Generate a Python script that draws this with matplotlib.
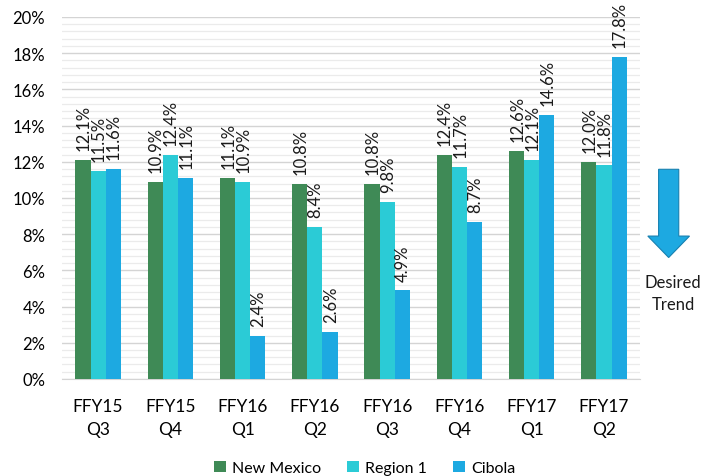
import matplotlib.pyplot as plt
import numpy as np
from matplotlib.patches import FancyArrow

# -----------------------------------
# Data
# -----------------------------------

quarters = ["FFY15\nQ3", "FFY15\nQ4", "FFY16\nQ1", "FFY16\nQ2",
            "FFY16\nQ3", "FFY16\nQ4", "FFY17\nQ1", "FFY17\nQ2"]

new_mexico = [12.1, 10.9, 11.1, 10.8, 10.8, 12.4, 12.6, 12.0]
region_1 = [11.5, 12.4, 10.9, 8.4, 9.8, 11.7, 12.1, 11.8]
cibola = [11.6, 11.1, 2.4, 2.6, 4.9, 8.7, 14.6, 17.8]

series = [("New Mexico", new_mexico, "#3F8A56"),
          ("Region 1", region_1, "#2BCBD6"),
          ("Cibola", cibola, "#1DA9E1")]

plt.rcParams['font.family'] = ['Lato', 'DejaVu Sans']

# -----------------------------------
# Figure Setup
# -----------------------------------

fig = plt.figure(figsize=(7.19, 4.77), dpi=100)
ax = fig.add_axes([0.0862, 0.2034, 0.804, 0.7589])

x = np.arange(len(quarters))
width = 0.21

for i, (name, vals, col) in enumerate(series):
    pos = x + (i - 1) * width
    ax.bar(pos, vals, width, color=col, label=name, zorder=3)
    for p, v in zip(pos, vals):
        ax.annotate(f"{v:.1f}%", (p, v), xytext=(0.5, 7),
                    textcoords="offset points", rotation=90,
                    ha="center", va="bottom", fontsize=12, color="#1a1a1a")

ax.set_xlim(-0.5, len(quarters) - 0.5)
ax.set_ylim(0, 20)
ax.set_yticks(np.arange(0, 21, 2))
ax.set_yticklabels([f"{t}%" for t in range(0, 21, 2)])
ax.set_yticks(np.arange(0, 20.01, 0.4), minor=True)
ax.yaxis.grid(True, which="major", color="#D4D4D4", linewidth=1.0, zorder=0)
ax.yaxis.grid(True, which="minor", color="#EBEBEB", linewidth=0.9, zorder=0)
ax.tick_params(axis="y", which="both", length=0, labelsize=12, pad=12)
ax.tick_params(axis="x", length=0, labelsize=12.5, pad=14)
ax.set_xticks(x)
ax.set_xticklabels(quarters, linespacing=1.5)

for s in ["top", "right", "left"]:
    ax.spines[s].set_visible(False)
ax.spines["bottom"].set_color("#D4D4D4")

# -----------------------------------
# Desired Trend arrow
# -----------------------------------

arrow = FancyArrow(0.93, 0.643, 0, -0.185, width=0.028, head_width=0.058,
                   head_length=0.045, length_includes_head=True,
                   transform=fig.transFigure, facecolor="#1DA9E1",
                   edgecolor="#1780B0", linewidth=0.8)
fig.patches.append(arrow)
fig.text(0.936, 0.384, "Desired\nTrend", ha="center", va="center",
         fontsize=12, linespacing=1.45, color="#1a1a1a")

# -----------------------------------
# Legend
# -----------------------------------

fig.legend(loc="lower center", bbox_to_anchor=(0.507, -0.028), ncol=3,
           frameon=False, fontsize=11.5, handlelength=0.75, handleheight=0.75,
           handletextpad=0.4, columnspacing=1.6)

fig.savefig("out.png", dpi=100)
